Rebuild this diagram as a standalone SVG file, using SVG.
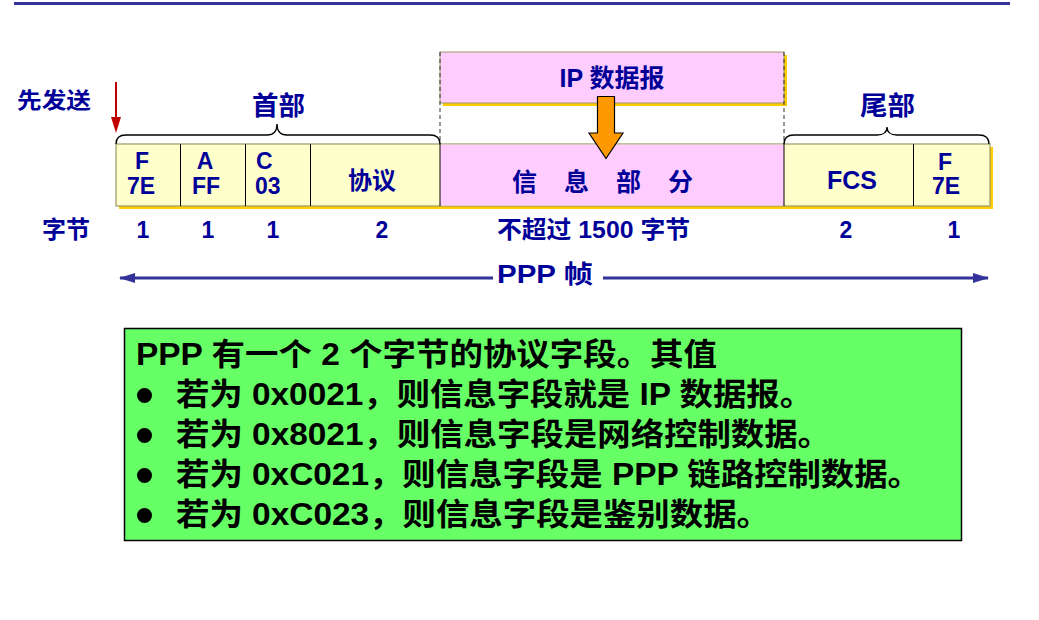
<svg xmlns="http://www.w3.org/2000/svg" width="1039" height="620" viewBox="0 0 1039 620">
<style>
.t{font-family:"Liberation Sans","Noto Sans CJK SC",sans-serif;font-weight:bold;fill:#000099}
.k{font-family:"Liberation Sans","Noto Sans CJK SC",sans-serif;font-weight:bold;fill:#000000;font-size:31px}
.c{text-anchor:middle}
.div{stroke:#000;stroke-width:1}
.dash{stroke:#333;stroke-width:1;stroke-dasharray:4 3;fill:none}
.brace{fill:none;stroke:#000;stroke-width:1.3}
.blue{stroke:#333399;stroke-width:3;fill:none}
</style>
<defs>
<marker id="ah" viewBox="0 0 16 10" refX="15" refY="5" markerWidth="16" markerHeight="10" markerUnits="userSpaceOnUse" orient="auto">
<path d="M0,0 L16,5 L0,10 Z" fill="#333399"/>
</marker>
</defs>
<rect x="14" y="2" width="996" height="3" fill="#333399"/>

<g id="ip-datagram">
<rect x="443" y="55" width="344" height="51" fill="#FFCC00"/>
<rect x="440" y="52" width="344" height="51" fill="#FFCCFF" stroke="#999966" stroke-width="1"/>
<text class="t c" x="612" y="87" font-size="25">IP 数据报</text>
</g>

<g id="frame">
<rect x="119" y="147" width="874" height="62" fill="#FFCC00"/>
<rect x="116" y="144" width="874" height="62" fill="#FFFFCC" stroke="#999966" stroke-width="1.2"/>
<rect x="440" y="144.6" width="344" height="61" fill="#FFCCFF"/>
<line class="div" x1="180.5" y1="144" x2="180.5" y2="206"/>
<line class="div" x1="245.5" y1="144" x2="245.5" y2="206"/>
<line class="div" x1="310.5" y1="144" x2="310.5" y2="206"/>
<line class="div" x1="440" y1="144" x2="440" y2="206"/>
<line class="div" x1="784" y1="144" x2="784" y2="206"/>
<line class="div" x1="913.5" y1="144" x2="913.5" y2="206"/>
</g>

<g id="f1"><text class="t c" font-size="23"><tspan x="142" y="169">F</tspan><tspan x="141" y="194">7E</tspan></text></g>
<g id="a"><text class="t c" font-size="23"><tspan x="205" y="169">A</tspan><tspan x="206" y="194">FF</tspan></text></g>
<g id="c"><text class="t" font-size="23"><tspan x="256" y="169">C</tspan><tspan x="255" y="194">03</tspan></text></g>
<g id="proto"><text class="t c" x="372" y="189" font-size="24">协议</text></g>
<g id="info"><text class="t" x="512" y="191" font-size="25" textLength="181" lengthAdjust="spacing">信 息 部 分</text></g>
<g id="fcs"><text class="t c" x="852" y="189" font-size="25">FCS</text></g>
<g id="f2"><text class="t c" font-size="23"><tspan x="945" y="170">F</tspan><tspan x="946" y="194">7E</tspan></text></g>

<g id="labels">
<text class="t" x="17" y="108" font-size="22" textLength="74" lengthAdjust="spacingAndGlyphs">先发送</text>
<text class="t" x="252" y="115" font-size="26" textLength="53" lengthAdjust="spacingAndGlyphs">首部</text>
<text class="t" x="860" y="115" font-size="26" textLength="55" lengthAdjust="spacingAndGlyphs">尾部</text>
</g>

<g id="bytes">
<text class="t" x="42" y="238" font-size="24" textLength="48" lengthAdjust="spacingAndGlyphs">字节</text>
<text class="t c" x="143" y="238" font-size="23">1</text>
<text class="t c" x="208" y="238" font-size="23">1</text>
<text class="t c" x="273" y="238" font-size="23">1</text>
<text class="t c" x="382" y="238" font-size="23">2</text>
<text class="t" x="497" y="238" font-size="24" textLength="193" lengthAdjust="spacingAndGlyphs">不超过 1500 字节</text>
<text class="t c" x="846" y="238" font-size="23">2</text>
<text class="t c" x="954" y="238" font-size="23">1</text>
</g>

<g id="connectors">
<line class="dash" x1="440" y1="52" x2="440" y2="144"/>
<line class="dash" x1="784" y1="52" x2="784" y2="144"/>
<path class="brace" d="M116,144 Q116,135 126,135 L267,135 Q277,135 277,124 Q277,135 287,135 L430,135 Q440,135 440,144"/>
<path class="brace" d="M784,144 Q784,135 794,135 L877,135 Q887,135 887,127 Q887,135 897,135 L979,135 Q989,135 989,144"/>
<line x1="116" y1="82" x2="116" y2="120" stroke="#C00000" stroke-width="2"/>
<path d="M111,117 L121,117 L116,133 Z" fill="#C00000"/>
<path d="M597.5,96.5 L614.5,96.5 L614.5,133 L623,133 L606,158.5 L589,133 L597.5,133 Z" fill="#FF9900" stroke="#000" stroke-width="1.2"/>
<line class="blue" x1="493" y1="278" x2="120" y2="278" marker-end="url(#ah)"/>
<line class="blue" x1="603" y1="278" x2="988" y2="278" marker-end="url(#ah)"/>
<text class="t" x="497" y="283" font-size="25" textLength="96" lengthAdjust="spacingAndGlyphs">PPP 帧</text>
</g>

<g id="note">
<rect x="124.5" y="328.5" width="837" height="212" fill="#66FF66" stroke="#000" stroke-width="1.5"/>
<text class="k" x="136" y="365" textLength="581" lengthAdjust="spacingAndGlyphs">PPP 有一个 2 个字节的协议字段。其值</text>
<circle cx="144.5" cy="395.5" r="7.5"/>
<text class="k" x="176" y="405" textLength="637" lengthAdjust="spacingAndGlyphs">若为 0x0021，则信息字段就是 IP 数据报。</text>
<circle cx="144.5" cy="435.5" r="7.5"/>
<text class="k" x="176" y="445" textLength="655" lengthAdjust="spacingAndGlyphs">若为 0x8021，则信息字段是网络控制数据。</text>
<circle cx="144.5" cy="475.5" r="7.5"/>
<text class="k" x="176" y="485" textLength="745" lengthAdjust="spacingAndGlyphs">若为 0xC021，则信息字段是 PPP 链路控制数据。</text>
<circle cx="144.5" cy="515.5" r="7.5"/>
<text class="k" x="176" y="525" textLength="594" lengthAdjust="spacingAndGlyphs">若为 0xC023，则信息字段是鉴别数据。</text>
</g>
</svg>
